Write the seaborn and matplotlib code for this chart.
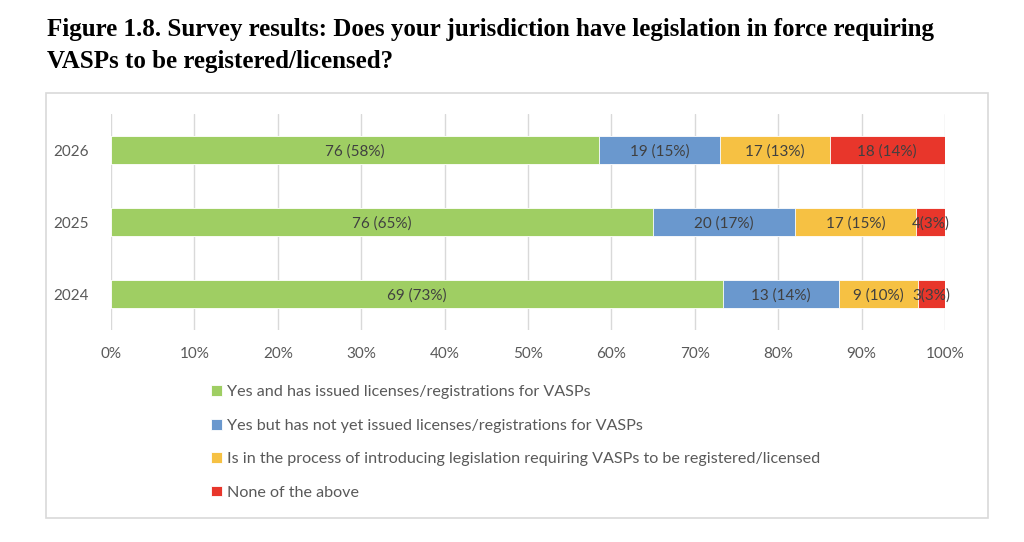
import matplotlib
matplotlib.use("Agg")
import matplotlib.pyplot as plt
import numpy as np
import pandas as pd
import seaborn as sns
from matplotlib.patches import Rectangle

# survey answers per year (counts of jurisdictions)
years = ["2026", "2025", "2024"]
answers = [
    "Yes and has issued licenses/registrations for VASPs",
    "Yes but has not yet issued licenses/registrations for VASPs",
    "Is in the process of introducing legislation requiring VASPs to be registered/licensed",
    "None of the above",
]
yes_issued = [76, 76, 69]
yes_not_issued = [19, 20, 13]
in_process = [17, 17, 9]
none_above = [18, 4, 3]
# labels as printed on the chart
seg_labels = [
    ["76 (58%)", "76 (65%)", "69 (73%)"],
    ["19 (15%)", "20 (17%)", "13 (14%)"],
    ["17 (13%)", "17 (15%)", "9 (10%)"],
    ["18 (14%)", "4(3%)", "3(3%)"],
]
colors = ["#9FCE63", "#6A98CE", "#F6C143", "#E8362B"]

counts = np.array([yes_issued, yes_not_issued, in_process, none_above], dtype=float)
shares = counts / counts.sum(axis=0) * 100
cum = np.cumsum(shares, axis=0)

sns.set_style("white")
plt.rcParams["font.family"] = ["Lato", "DejaVu Sans"]
text_col = "#595959"

fig = plt.figure(figsize=(10.24, 5.42), dpi=100)
fig.patches.append(Rectangle((46 / 1024, 1 - 518 / 542), 942 / 1024, 425 / 542,
                             transform=fig.transFigure, fill=False,
                             edgecolor="#D9D9D9", linewidth=1.2))
ax = fig.add_axes([111 / 1024, 1 - 330 / 542, 834 / 1024, 216 / 542])

# draw from the full stack down so each later bar covers the earlier ones
for i in range(len(answers) - 1, -1, -1):
    df = pd.DataFrame({"year": years, "end": cum[i]})
    sns.barplot(data=df, x="end", y="year", orient="h", color=colors[i],
                width=0.39, saturation=1, edgecolor="white", linewidth=0.6,
                label=answers[i], ax=ax)
handles, labels = ax.get_legend_handles_labels()
if ax.get_legend() is not None:
    ax.get_legend().remove()

for i in range(len(answers)):
    for j, yr in enumerate(years):
        center = cum[i][j] - shares[i][j] / 2
        ax.text(center, j, seg_labels[i][j], ha="center", va="center_baseline",
                fontsize=11, color="#404040")

ax.set_xlim(0, 100)
ax.set_ylim(2.5, -0.5)
ax.set_xticks(np.arange(0, 101, 10))
ax.set_xticklabels([f"{v}%" for v in range(0, 101, 10)])
ax.grid(axis="x", color="#D9D9D9", linewidth=1)
ax.set_axisbelow(True)
for s in ax.spines.values():
    s.set_visible(False)
ax.set_xlabel("")
ax.set_ylabel("")
ax.tick_params(axis="x", length=0, pad=12, labelsize=11, labelcolor=text_col)
ax.tick_params(axis="y", length=0, pad=16, labelsize=11, labelcolor=text_col)

order = [labels.index(a) for a in answers]
fig.legend([handles[k] for k in order], answers, loc="upper left",
           bbox_to_anchor=(205 / 1024, 1 - 379 / 542), frameon=False,
           fontsize=11.6, labelcolor=text_col, handlelength=0.65, handleheight=0.65,
           handletextpad=0.3, labelspacing=1.2, borderaxespad=0)

fig.text(47 / 1024, 1 - 18 / 542,
         "Figure 1.8. Survey results: Does your jurisdiction have legislation in force requiring\nVASPs to be registered/licensed?",
         ha="left", va="top", fontsize=18, fontweight="bold",
         family="Liberation Serif", linespacing=1.5, color="#000000",
         transform=fig.transFigure)

fig.savefig("out.png", dpi=100)
